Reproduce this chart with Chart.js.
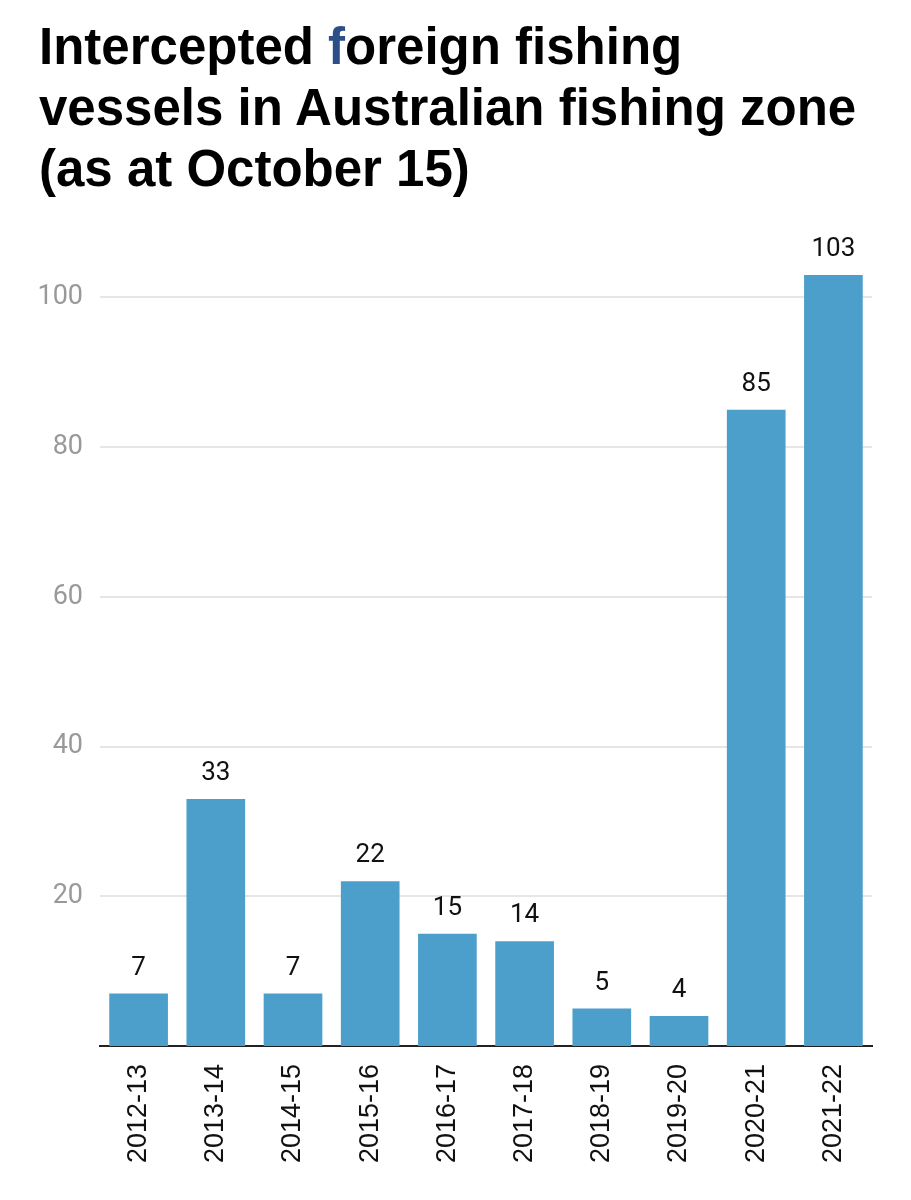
<!DOCTYPE html>
<html>
<head>
<meta charset="utf-8">
<script src="https://cdn.jsdelivr.net/npm/chart.js@4.4.1/dist/chart.umd.min.js"></script>
<style>
  body { margin: 0; background: #fff; width: 911px; height: 1200px; overflow: hidden; position: relative; }
  #title {
    position: absolute; left: 39px; top: 16px; margin: 0;
    font-family: "Liberation Sans", Arial, sans-serif; font-weight: bold;
    font-size: 51px; line-height: 61px; color: #000;
  }
  #title .hl { color: #2b4f86; }
  #wrap { position: absolute; left: 0; top: 200px; width: 911px; height: 1000px; }
</style>
</head>
<body>
<h1 id="title">Intercepted <span class="hl">f</span>oreign fishing<br>vessels in Australian fishing zone<br>(as at October 15)</h1>
<div id="wrap"><canvas id="chart"></canvas></div>
<script>
const seasons = ["2012-13", "2013-14", "2014-15", "2015-16", "2016-17", "2017-18", "2018-19", "2019-20", "2020-21", "2021-22"];
const vessels = [7, 33, 7, 22, 15, 14, 5, 4, 85, 103];
const yTicks = [20, 40, 60, 80, 100];

// numbers above each bar
const barLabels = {
  id: "barLabels",
  afterDatasetsDraw(chart) {
    const ctx = chart.ctx;
    const meta = chart.getDatasetMeta(0);
    ctx.save();
    ctx.font = "26px Roboto";
    ctx.fillStyle = "#111";
    ctx.textAlign = "center";
    ctx.textBaseline = "alphabetic";
    meta.data.forEach((bar, i) => {
      ctx.fillText(vessels[i], bar.x, bar.y - 19);
    });
    ctx.restore();
  }
};

new Chart(document.getElementById("chart"), {
  type: "bar",
  data: {
    labels: seasons,
    datasets: [{
      data: vessels,
      backgroundColor: "#4b9fca",
      barPercentage: 0.76,
      categoryPercentage: 1
    }]
  },
  options: {
    responsive: true,
    maintainAspectRatio: false,
    animation: false,
    layout: { padding: { top: 60, right: 39, left: 0, bottom: 0 } },
    plugins: { legend: { display: false }, tooltip: { enabled: false } },
    scales: {
      x: {
        grid: { display: false, drawTicks: false },
        border: { display: true, color: "#222", width: 2 },
        ticks: {
          color: "#111",
          font: { family: "Liberation Sans", size: 27 },
          minRotation: 90, maxRotation: 90,
          padding: 18
        },
        afterFit(scale) { scale.height = 154; }
      },
      y: {
        min: 0, max: 105,
        grid: { color: "#e6e6e6", lineWidth: 2, drawTicks: false },
        border: { display: false },
        ticks: {
          color: "#999",
          font: { family: "Roboto", size: 27 },
          padding: 17
        },
        afterBuildTicks(scale) { scale.ticks = yTicks.map(v => ({ value: v })); },
        afterFit(scale) { scale.width = 100; }
      }
    }
  },
  plugins: [barLabels]
});
</script>
</body>
</html>
